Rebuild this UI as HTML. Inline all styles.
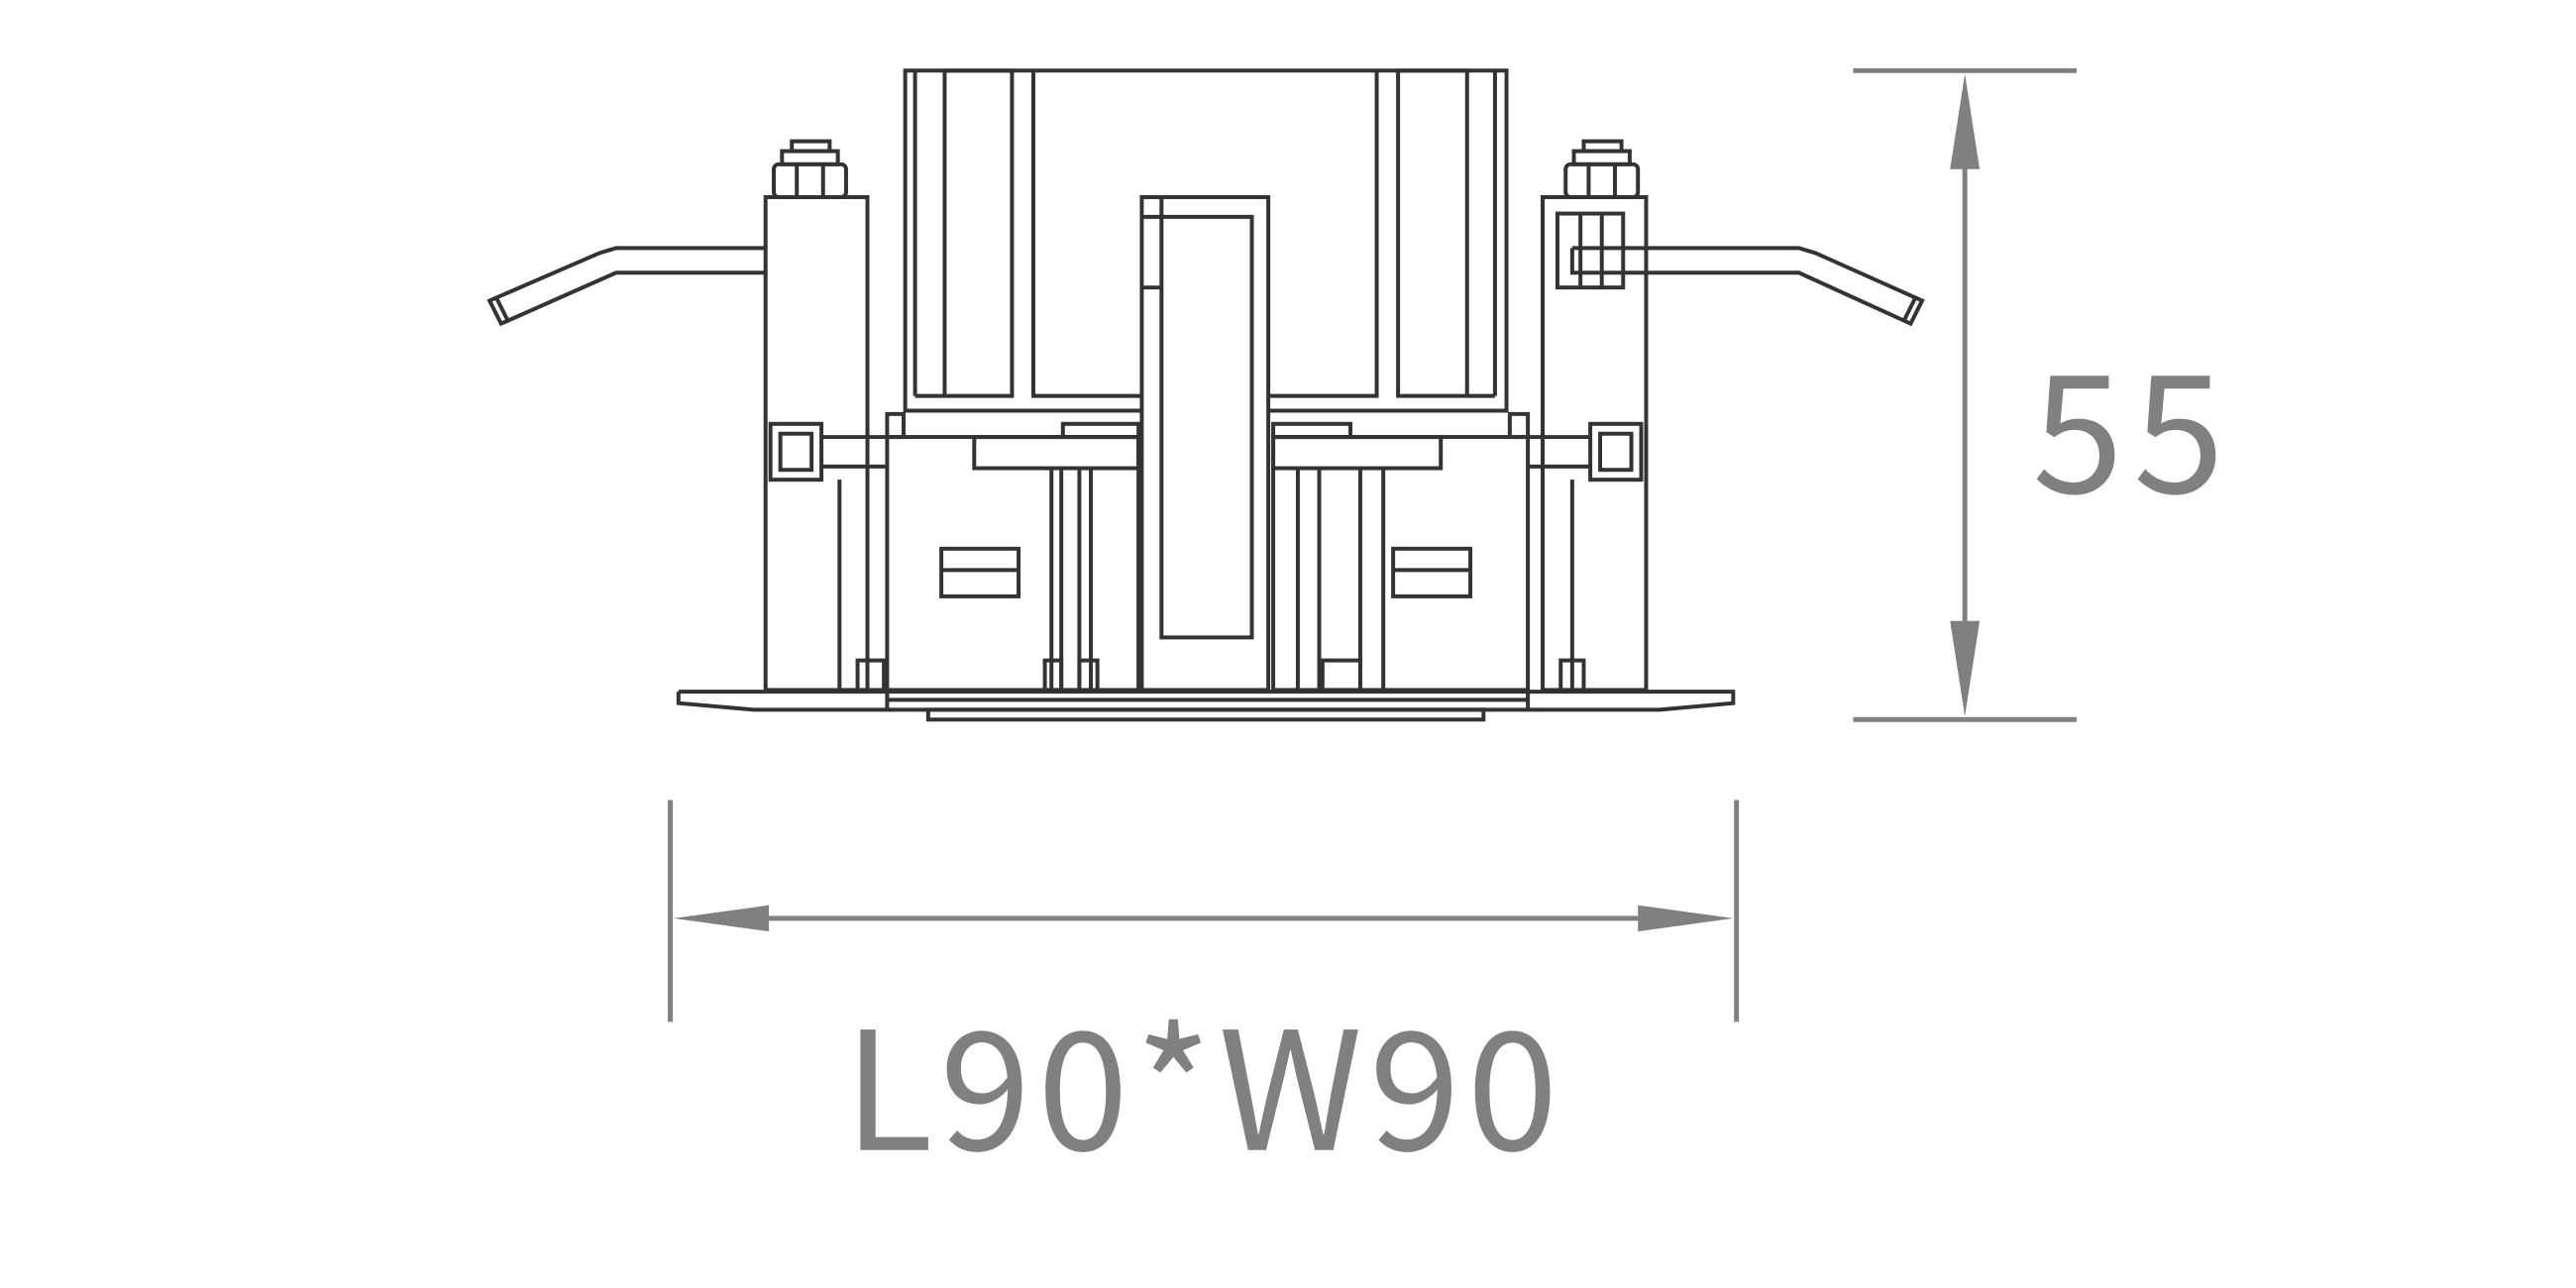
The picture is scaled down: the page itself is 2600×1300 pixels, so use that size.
<!DOCTYPE html>
<html><head><style>html,body{margin:0;padding:0;background:#fff}svg{display:block}</style></head>
<body>
<svg width="2600" height="1300" viewBox="0 0 1568 784" xmlns="http://www.w3.org/2000/svg">
<rect width="1568" height="784" fill="#fff"/>
<g fill="none" stroke="#333" stroke-width="2.4" stroke-linejoin="miter">
<polyline points="695,250 551,250 551,43 917,43 917,250 772,250"/>
<line x1="557" y1="43" x2="557" y2="241"/><line x1="910" y1="43" x2="910" y2="241"/>
<rect x="575" y="43" width="41" height="198"/><rect x="851" y="43" width="42" height="198"/>
<polyline points="629,43 629,241 695,241"/><polyline points="838,43 838,241 772,241"/>
<line x1="557" y1="241" x2="575" y2="241"/><line x1="893" y1="241" x2="910" y2="241"/>
<rect x="695" y="120" width="77" height="300"/>
<rect x="707" y="132" width="55" height="256"/>
<polyline points="695,132 707,132"/><line x1="707" y1="120" x2="707" y2="132"/>
<polyline points="695,175 707,175"/>
<rect x="466" y="120" width="62" height="300"/>
<rect x="471" y="100" width="44" height="20" rx="3"/>
<line x1="485" y1="100" x2="485" y2="120"/><line x1="501" y1="100" x2="501" y2="120"/>
<rect x="476" y="92" width="34" height="8"/><rect x="482" y="86" width="23" height="6"/>
<rect x="939" y="120" width="63" height="300"/>
<rect x="953" y="100" width="44" height="20" rx="3"/>
<line x1="967" y1="100" x2="967" y2="120"/><line x1="983" y1="100" x2="983" y2="120"/>
<rect x="958" y="92" width="34" height="8"/><rect x="964" y="86" width="23" height="6"/>
<rect x="948" y="130" width="40" height="45"/><line x1="962" y1="130" x2="962" y2="175"/><line x1="975" y1="130" x2="975" y2="175"/>
<polyline points="466,151 375,151 365,154 298,183 305,197 375,166 466,166"/>
<line x1="302" y1="181" x2="309" y2="195"/>
<polyline points="957,151 1095,151 1105,154 1170,183 1163,197 1095,166 957,166 957,151"/>
<line x1="1166" y1="181" x2="1159" y2="195"/>
<rect x="469" y="258" width="31" height="34"/><rect x="475" y="264" width="19" height="22"/>
<rect x="968" y="258" width="31" height="34"/><rect x="974" y="264" width="19" height="22"/>
<polyline points="500,266 540,266"/><polyline points="500,284 540,284"/>
<polyline points="930,266 968,266"/><polyline points="930,284 968,284"/>
<line x1="511" y1="292" x2="511" y2="420"/><line x1="957" y1="292" x2="957" y2="420"/>
<rect x="522" y="402" width="16" height="18"/><rect x="950" y="402" width="14" height="18"/>
<rect x="540" y="266" width="153" height="154"/>
<rect x="775" y="266" width="155" height="154"/>
<rect x="540" y="252" width="10" height="14"/><rect x="919" y="252" width="11" height="14"/>
<rect x="593" y="266" width="100" height="19"/><rect x="647" y="258" width="46" height="8"/>
<rect x="775" y="266" width="102" height="19"/><rect x="775" y="258" width="47" height="8"/>
<line x1="640" y1="285" x2="640" y2="420"/><line x1="646" y1="285" x2="646" y2="420"/><line x1="657" y1="285" x2="657" y2="420"/><line x1="664" y1="285" x2="664" y2="420"/>
<line x1="790" y1="285" x2="790" y2="420"/><line x1="803" y1="285" x2="803" y2="420"/><line x1="828" y1="285" x2="828" y2="420"/><line x1="842" y1="285" x2="842" y2="420"/>
<rect x="636" y="402" width="10" height="18"/><rect x="657" y="402" width="11" height="18"/><rect x="805" y="402" width="23" height="18"/>
<rect x="573" y="334" width="47" height="29"/><line x1="573" y1="347" x2="620" y2="347"/>
<rect x="848" y="334" width="47" height="29"/><line x1="848" y1="347" x2="895" y2="347"/>
<polyline points="413,421 1055,421 1055,428 1010,432 459,432 413,428 413,421"/>
<line x1="540" y1="421" x2="540" y2="432"/><line x1="930" y1="421" x2="930" y2="432"/>
<line x1="540" y1="426" x2="930" y2="426"/>
<rect x="565" y="432" width="338" height="6"/>
</g>
<g stroke="#808080" stroke-width="3" fill="#808080">
<line x1="1128" y1="43" x2="1264" y2="43"/><line x1="1128" y1="438" x2="1264" y2="438"/>
<line x1="1196" y1="60" x2="1196" y2="420"/>
<polygon points="1196,45 1187,103 1205,103" stroke="none"/>
<polygon points="1196,436 1187,378 1205,378" stroke="none"/>
<line x1="408" y1="487" x2="408" y2="622"/><line x1="1057" y1="487" x2="1057" y2="622"/>
<line x1="420" y1="559" x2="1045" y2="559"/>
<polygon points="410,559 468,551 468,567" stroke="none"/>
<polygon points="1055,559 997,551 997,567" stroke="none"/>
</g>
<g fill="#808080" font-family="'Noto Sans CJK SC', 'Liberation Sans', sans-serif" font-weight="400" font-size="100">
<text x="1237" y="300" letter-spacing="6">55</text>
<text x="733" y="700" text-anchor="middle" letter-spacing="4">L90*W90</text>
</g>
</svg>
</body></html>
